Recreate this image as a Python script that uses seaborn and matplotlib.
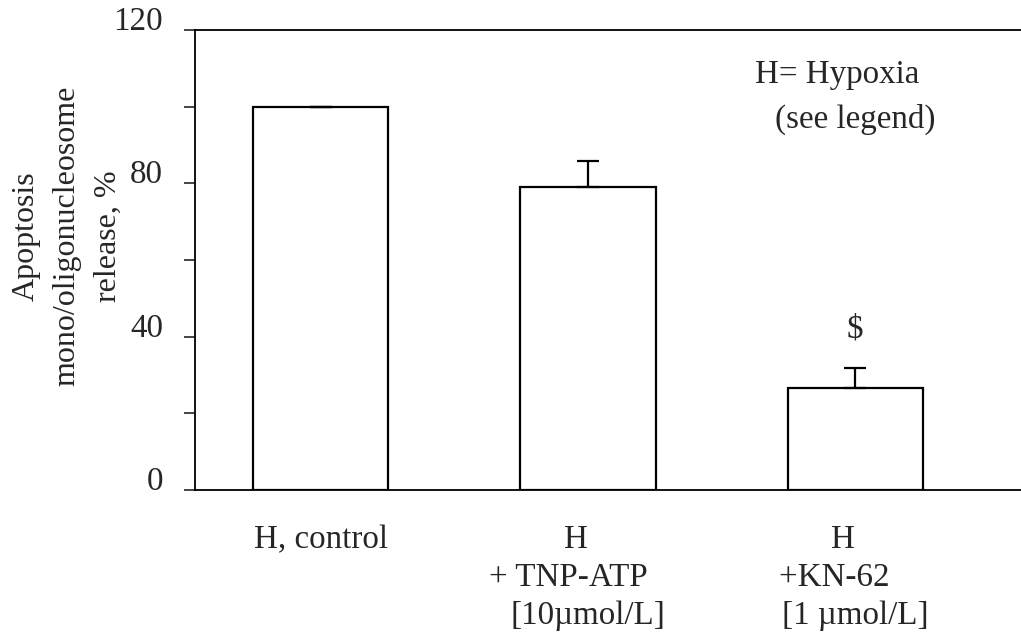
import matplotlib
matplotlib.use("Agg")
import matplotlib.pyplot as plt
import seaborn as sns
import pandas as pd

categories = ["H, control", "H   \n+ TNP-ATP     \n[10\u00b5mol/L]", "H   \n+KN-62     \n[1 \u00b5mol/L]"]
values = [100, 79, 26.5]
errors_up = [0, 6.8, 5.2]
ytick_values = [0, 20, 40, 60, 80, 100, 120]
ytick_labels = ["0", "", "40", "", "80", "", "120"]
annot_marks = ["", "", "$"]

sns.set_style("ticks")
plt.rcParams["font.family"] = ["Liberation Serif", "DejaVu Serif"]
plt.rcParams["mathtext.default"] = "regular"

FS = 23.8

fig = plt.figure(figsize=(10.21, 6.32), dpi=100)
ax = fig.add_axes([0.191, 0.2247, 0.809, 0.7278])

df = pd.DataFrame({"cat": categories, "val": values})
sns.barplot(data=df, x="cat", y="val", ax=ax, color="white", edgecolor="black",
            linewidth=1.6, width=0.506, errorbar=None, saturation=1)

ax.errorbar(range(len(values)), values, yerr=[[0] * len(values), errors_up],
            fmt="none", ecolor="black", elinewidth=1.6, capsize=8, capthick=1.6)

for i, m in enumerate(annot_marks):
    if m:
        ax.text(i, values[i] + errors_up[i] + 10.3, m.replace("$", r"\$"),
                ha="center", va="center", fontsize=FS)

ax.set_xlim(-0.47, 2.62)
ax.set_ylim(0, 120)
ax.set_yticks(ytick_values)
ax.set_yticklabels(ytick_labels, fontsize=FS)
for lab in ax.get_yticklabels():
    lab.set_va("baseline")
ax.tick_params(axis="y", direction="out", length=8, width=1.2, pad=15)
ax.tick_params(axis="x", length=0, pad=25, labelsize=FS)
for lab in ax.get_xticklabels():
    lab.set_multialignment("center")
    lab.set_linespacing(1.32)

ax.set_xlabel("")
ax.set_ylabel("Apoptosis\nmono/oligonucleosome\nrelease, %", fontsize=23, va="center",
              linespacing=1.55)
ax.yaxis.set_label_coords(-0.155, 0.552)

for s in ["left", "top", "bottom"]:
    ax.spines[s].set_visible(True)
    ax.spines[s].set_linewidth(1.3)
    ax.spines[s].set_color("black")
ax.spines["right"].set_visible(False)

ax.text(0.678, 0.903, "H= Hypoxia", transform=ax.transAxes, fontsize=FS, ha="left", va="center")
ax.text(0.702, 0.806, "(see legend)", transform=ax.transAxes, fontsize=FS, ha="left", va="center")

fig.savefig("out.png", dpi=100)
